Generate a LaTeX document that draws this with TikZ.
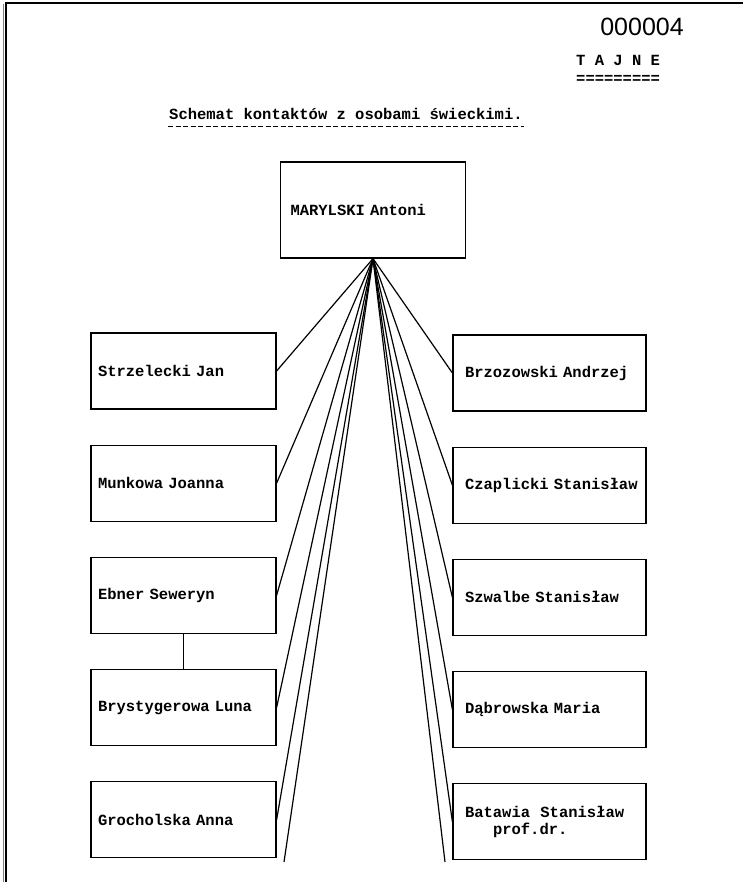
\documentclass[tikz,border=0pt]{standalone}
\usepackage{fontspec}
\setmainfont{Liberation Sans}
\setmonofont{Liberation Mono}
\usetikzlibrary{positioning}

\begin{document}
\begin{tikzpicture}[
    x=1pt, y=-1pt,
    node distance=35pt,
    person/.style={rectangle, draw, line width=1.2pt,
                minimum height=76pt, text width=171pt, inner xsep=7pt,
                align=left, font=\ttfamily\bfseries\fontsize{15.5}{17}\selectfont},
    rperson/.style={person, text width=169pt, inner xsep=12pt},
    typed/.style={font=\ttfamily\bfseries\fontsize{15.5}{17}\selectfont, inner sep=1pt},
    link/.style={line width=1.2pt}
]
\useasboundingbox (0,0) rectangle (743,882);
% frame of the scan
\draw[gray, line width=1pt] (3.5,882) -- (3.5,4);
\draw[line width=1.4pt] (6,882) -- (6,3) -- (743,3);

% heading
\node[font=\fontsize{25}{28}\selectfont] (num) at (642,27) {000004};
\node[typed, anchor=west, text height=9pt, text depth=0pt] (secret) at (575,61) {T A J N E};
\node[typed, anchor=north west, text height=5pt, text depth=0pt, inner sep=0pt] (secretline) at (576,78) {=========};
\node[typed, anchor=base west] (title) at (168,120) {Schemat kontaktów z osobami świeckimi.};
\draw[line width=1.2pt, dash pattern=on 5pt off 2.5pt] ([yshift=-5pt]title.south west) -- ([yshift=-5pt]title.south east);

% centre
\node[person, minimum height=96pt, text width=165pt, inner xsep=10pt] (maryl) at (373,210) {MARYLSKI Antoni};

% left column
\node[person] (strz) at (183.5,371) {Strzelecki Jan};
\node[person, below=of strz] (munk) {Munkowa Joanna};
\node[person, below=of munk] (ebner) {Ebner Seweryn};
\node[person, below=of ebner] (bryst) {Brystygerowa Luna};
\node[person, below=of bryst] (groch) {Grocholska Anna};

% right column
\node[rperson] (brzo) at (549.5,373) {Brzozowski Andrzej};
\node[rperson, below=of brzo] (czap) {Czaplicki~Stanisław};
\node[rperson, below=of czap] (szwal) {Szwalbe Stanisław};
\node[rperson, below=of szwal] (dabr) {Dąbrowska Maria};
\node[rperson, below=of dabr] (bataw) {Batawia\ \ Stanisław\\\hspace*{28pt}prof.dr.};

\coordinate (lend) at (284,862);
\coordinate (rend) at (445,862);

\draw[link] (ebner) -- (bryst);
\foreach \n in {strz, munk, ebner, bryst, groch}
    \draw[link] (maryl.south) -- (\n.east);
\foreach \n in {brzo, czap, szwal, dabr, bataw}
    \draw[link] (maryl.south) -- (\n.west);
\draw[link] (maryl.south) -- (lend);
\draw[link] (maryl.south) -- (rend);
\end{tikzpicture}
\end{document}
